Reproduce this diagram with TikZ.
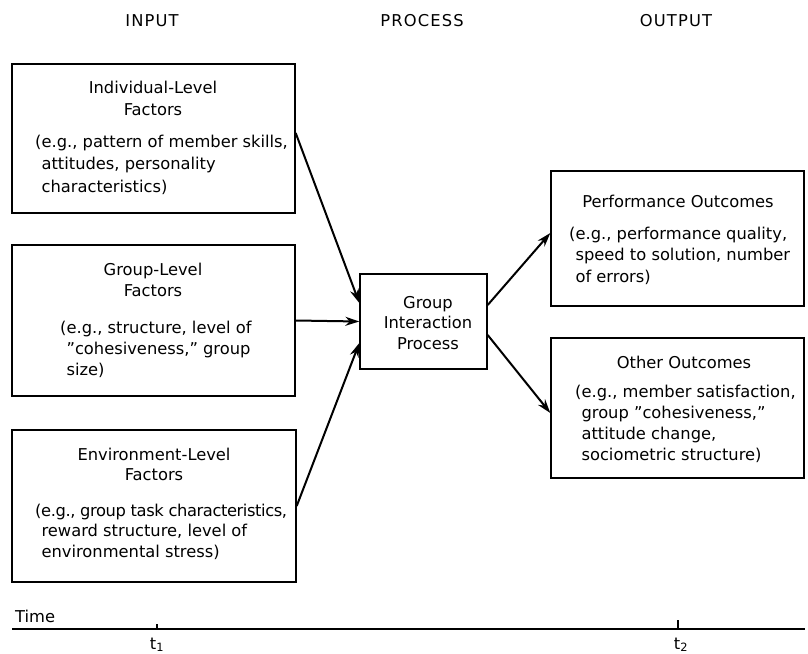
\documentclass[tikz,border=0pt]{standalone}
\usepackage{fontspec}
\setmainfont{DejaVu Sans}
\usetikzlibrary{arrows.meta}
\begin{document}
\begin{tikzpicture}[x=1pt,y=-1pt,
  box/.style={draw, line width=1.4pt, inner sep=0pt},
  ls/.style={font=\fontsize{16.3}{#1}\selectfont},
  ttl/.style={ls=21, inner sep=0pt, align=center, anchor=base},
  body/.style={ls=21, inner sep=0pt, align=left, anchor=base west},
  hdr/.style={font=\fontsize{16.3}{21}\selectfont\addfontfeatures{LetterSpace=7}, inner sep=0pt, anchor=base},
  lbl/.style={ls=21, inner sep=0pt, anchor=base},
  arr/.style={line width=2pt, -{Stealth[length=14pt,width=9pt]}},
  axis/.style={line width=1.3pt}
]
\useasboundingbox (0,0) rectangle (808,653);

% headers
\node[hdr] (hin) at (152,27) {INPUT};
\node[hdr] (hpr) at (422,27) {PROCESS};
\node[hdr] (hout) at (676,27) {OUTPUT};

% input boxes (multi-line nodes are placed at the baseline of their last line)
\node[box, minimum width=283, minimum height=149] (b1) at (153.5,138.5) {};
\node[ttl, ls=22] (b1t) at (153,115) {Individual-Level\\Factors};
\node[body, ls=22.5] (b1b) at (35,192) {(e.g., pattern of member skills,\\\phantom{(}attitudes, personality\\\phantom{(}characteristics)};

\node[box, minimum width=283, minimum height=151] (b2) at (153.5,320.5) {};
\node[ttl, ls=21] (b2t) at (153,296) {Group-Level\\Factors};
\node[body, ls=21] (b2b) at (60,375) {(e.g., structure, level of\\\phantom{(}''cohesiveness,'' group\\\phantom{(}size)};

\node[box, minimum width=284, minimum height=152] (b3) at (154,506) {};
\node[ttl, ls=19.5] (b3t) at (154,480) {Environment-Level\\Factors};
\node[body, ls=20.5] (b3b) at (35,557) {{\addfontfeatures{LetterSpace=-2.5}(e.g., group task characteristics,}\\\phantom{(}reward structure, level of\\\phantom{(}environmental stress)};

% process box
\node[box, minimum width=127, minimum height=95] (m) at (423.5,321.5) {};
\node[ttl, ls=20.5] (mt) at (428,349) {Group\\Interaction\\Process};

% output boxes
\node[box, minimum width=253, minimum height=135] (r1) at (677.5,238.5) {};
\node[ttl] (r1t) at (678,207) {Performance Outcomes};
\node[body, ls=21.5] (r1b) at (569,282) {(e.g., performance quality,\\\phantom{(}speed to solution, number\\\phantom{(}of errors)};

\node[box, minimum width=253, minimum height=140] (r2) at (677.5,408) {};
\node[ttl] (r2t) at (684,368) {Other Outcomes};
\node[body, ls=20.7] (r2b) at (575,460) {(e.g., member satisfaction,\\\phantom{(}group ''cohesiveness,''\\\phantom{(}attitude change,\\\phantom{(}sociometric structure)};

% arrows
\draw[arr] ([yshift=5.5pt]b1.east) -- ([yshift=18.5pt]m.west);
\draw[arr] (b2.east) -- (m.west);
\draw[arr] (b3.east) -- ([yshift=-21.5pt]m.west);
\draw[arr] ([yshift=16.5pt]m.east) -- ([yshift=5.5pt]r1.west);
\draw[arr] ([yshift=-13.5pt]m.east) -- ([yshift=-5pt]r2.west);

% time axis
\node[lbl, anchor=base west] (time) at (15,622) {Time};
\coordinate (ax0) at (12,629);
\coordinate (ax1) at (805,629);
\draw[axis] (ax0) -- (ax1);
\coordinate (k1) at (157,629);
\coordinate (k2) at (678,629);
\draw[line width=1.2pt] (k1) -- ++(0,-5);
\draw[line width=1.2pt] (k2) -- ++(0,-9);
\node[lbl] (t1) at (157,649) {t\textsubscript{1}};
\node[lbl] (t2) at (681,649) {t\textsubscript{2}};
\end{tikzpicture}
\end{document}
